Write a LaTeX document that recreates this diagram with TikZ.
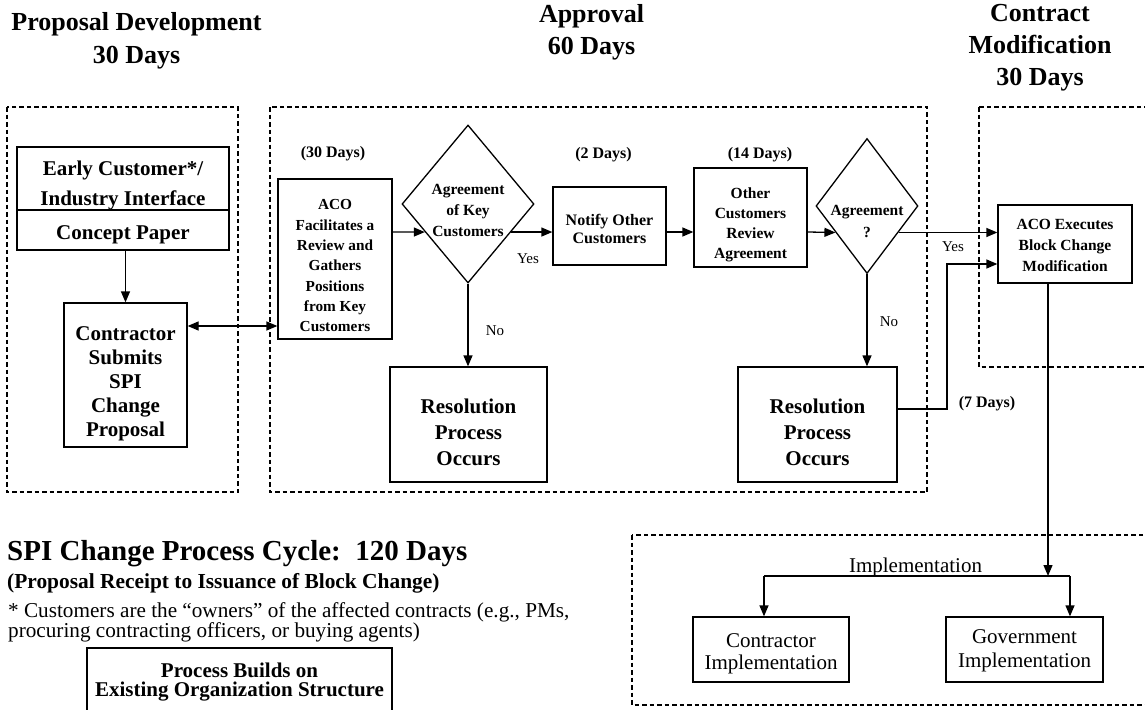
\documentclass[tikz,border=0pt]{standalone}
\usepackage{fontspec}
\setmainfont{Liberation Serif}
\usetikzlibrary{arrows.meta,shapes.geometric}
\begin{document}
\begin{tikzpicture}[x=1pt,y=-1pt,
  box/.style={draw, line width=1.3pt, inner sep=0pt, rectangle},
  dia/.style={draw, diamond, line width=1.3pt, inner sep=0pt},
  txt/.style={align=center, inner sep=0pt},
  zone/.style={draw, dash pattern=on 4.5pt off 3pt, line width=1.2pt},
  arr/.style={line width=1.3pt, -{Triangle[length=11pt,width=9pt]}},
  darr/.style={line width=1.3pt, {Triangle[length=11pt,width=9pt]}-{Triangle[length=11pt,width=9pt]}},
  plain/.style={line width=1.3pt},
  ttl/.style={txt, font=\fontsize{26}{33}\selectfont\bfseries},
  bigb/.style={txt, font=\fontsize{21}{24}\selectfont\bfseries},
  lab/.style={inner sep=0pt, anchor=base, font=\fontsize{16}{18}\selectfont\bfseries},
  yn/.style={inner sep=0pt, anchor=base, font=\fontsize{15}{18}\selectfont},
  reg/.style={txt, font=\fontsize{21}{22}\selectfont}
]
\useasboundingbox (0,0) rectangle (1145,709);
\fill[white] (0,0) rectangle (1145,709);
\clip (0,0) rectangle (1145,709);

% titles
\node[ttl] (t1) at (136.5,40.7) {Proposal Development\\30 Days};
\node[ttl, font=\fontsize{26}{32}\selectfont\bfseries] (t2) at (591.5,32) {Approval\\60 Days};
\node[ttl, font=\fontsize{26}{32}\selectfont\bfseries] (t3) at (1040,48) {Contract\\Modification\\30 Days};

% dashed zones
\draw[zone] (7,107) rectangle (238,492);
\draw[zone] (270,107) rectangle (927,492);
\draw[zone] (979,107) rectangle (1160,367);
\draw[zone] (632,535) rectangle (1160,705);

% proposal development
\node[box, minimum width=212pt, minimum height=63pt] (early) at (123,178.5) {};
\node[box, minimum width=212pt, minimum height=40pt] (concept) at (123,230) {};
\node[txt, font=\fontsize{21}{30}\selectfont\bfseries] (earlyt) at (123,185) {Early Customer*/\\Industry Interface};
\node[bigb] (conceptt) at (123,235) {Concept Paper};
\node[box, minimum width=123pt, minimum height=144pt] (contractor) at (125.5,375) {};
\node[bigb] (contractort) at (125.5,384) {Contractor\\Submits\\SPI\\Change\\Proposal};

% approval
\node[box, minimum width=114pt, minimum height=160pt] (aco) at (335,259) {};
\node[txt, font=\fontsize{15.3}{20.33}\selectfont\bfseries] (acot) at (335,266) {ACO\\Facilitates a\\Review and\\Gathers\\Positions\\from Key\\Customers};
\node[dia, minimum width=132pt, minimum height=158pt] (d1) at (468,204) {};
\node[txt, font=\fontsize{15.5}{21}\selectfont\bfseries] (d1t) at (468,210) {Agreement\\of Key\\Customers};
\node[box, minimum width=113pt, minimum height=78pt] (notify) at (609.5,226) {};
\node[txt, font=\fontsize{16}{18}\selectfont\bfseries] (notifyt) at (609.5,228.5) {Notify Other\\Customers};
\node[box, minimum width=113pt, minimum height=99pt] (other) at (750.5,217.5) {};
\node[txt, font=\fontsize{15.5}{20}\selectfont\bfseries] (othert) at (750.5,224.5) {Other\\Customers\\Review\\Agreement};
\node[dia, minimum width=102pt, minimum height=135pt] (d2) at (867,206) {};
\node[txt, font=\fontsize{15.5}{22}\selectfont\bfseries] (d2t) at (867,221) {Agreement\\?};
\node[box, minimum width=157pt, minimum height=115pt] (res1) at (468.5,424.5) {};
\node[txt, font=\fontsize{21}{26}\selectfont\bfseries] (res1t) at (468.5,432) {Resolution\\Process\\Occurs};
\node[box, minimum width=159pt, minimum height=115pt] (res2) at (817.5,424.5) {};
\node[txt, font=\fontsize{21}{26}\selectfont\bfseries] (res2t) at (817.5,432) {Resolution\\Process\\Occurs};

% contract modification
\node[box, minimum width=134pt, minimum height=78pt] (acoexec) at (1065,244) {};
\node[txt, font=\fontsize{15.5}{21}\selectfont\bfseries] (acoexect) at (1065,245) {ACO Executes\\Block Change\\Modification};

% implementation
\node[box, minimum width=156pt, minimum height=65pt] (cimpl) at (771,649.5) {};
\node[reg] (cimplt) at (771,654) {Contractor\\Implementation};
\node[box, minimum width=157pt, minimum height=65pt] (gimpl) at (1024.5,649.5) {};
\node[txt, font=\fontsize{21}{24}\selectfont] (gimplt) at (1024.5,651) {Government\\Implementation};
\node[inner sep=0pt, anchor=base, font=\fontsize{21}{22}\selectfont] (impl) at (915.5,572) {Implementation};

% labels
\node[lab] (l30) at (333,157) {(30 Days)};
\node[lab] (l2) at (603.5,158) {(2 Days)};
\node[lab] (l14) at (760,158) {(14 Days)};
\node[lab] (l7) at (987,407) {(7 Days)};
\node[yn] (yes1) at (528,263) {Yes};
\node[yn] (no1) at (495,335) {No};
\node[yn] (yes2) at (953,251) {Yes};
\node[yn] (no2) at (889,326) {No};

% bottom-left texts
\node[inner sep=0pt, anchor=base west, font=\fontsize{29}{33}\selectfont\bfseries] (cycle) at (7,560) {SPI Change Process Cycle:\ \ 120 Days};
\node[inner sep=0pt, anchor=base west, font=\fontsize{21.4}{24}\selectfont\bfseries] (receipt) at (7,588) {(Proposal Receipt to Issuance of Block Change)};
\node[inner sep=0pt, anchor=base west, font=\fontsize{21.2}{24}\selectfont] (note1) at (8,617) {* Customers are the ``owners'' of the affected contracts (e.g., PMs,};
\node[inner sep=0pt, anchor=base west, font=\fontsize{21.2}{24}\selectfont] (note2) at (8,637) {procuring contracting officers, or buying agents)};
\node[box, minimum width=305pt, minimum height=84pt] (pbox) at (239.5,690) {};
\node[txt, font=\fontsize{21}{19}\selectfont\bfseries] (pboxt) at (239.5,682) {Process Builds on\\Existing Organization Structure};

% connectors
\coordinate (ym) at (0,232);
\coordinate (yd) at (0,326);
\draw[arr] (contractor.north |- concept.south) -- (contractor.north);
\draw[darr] (contractor.east |- yd) -- (aco.west |- yd);
\draw[arr] (aco.east |- ym) -- (d1.213);
\draw[arr] (d1.-33) -- (notify.west |- d1.-33);
\draw[arr] (notify.east |- ym) -- (other.west |- ym);
\draw[arr] (other.east |- ym) -- (d2.220);
\draw[arr] (d2.-40) -- (acoexec.west |- d2.-40);
\draw[arr] (d1.south) -- (d1.south |- res1.north);
\draw[arr] (d2.south) -- (d2.south |- res2.north);
\coordinate (jb) at (947,409);
\draw[arr] (res2.east |- jb) -- (jb) |- ([yshift=-20pt]acoexec.west);
\coordinate (jn) at (1048,576);
\coordinate (jl) at (764,576);
\coordinate (jr) at (1070,576);
\draw[arr] (acoexec.south -| jn) -- (jn);
\draw[plain] (jl) -- (jr);
\draw[arr] (jl) -- (jl |- cimpl.north);
\draw[arr] (jr) -- (jr |- gimpl.north);
\end{tikzpicture}
\end{document}
